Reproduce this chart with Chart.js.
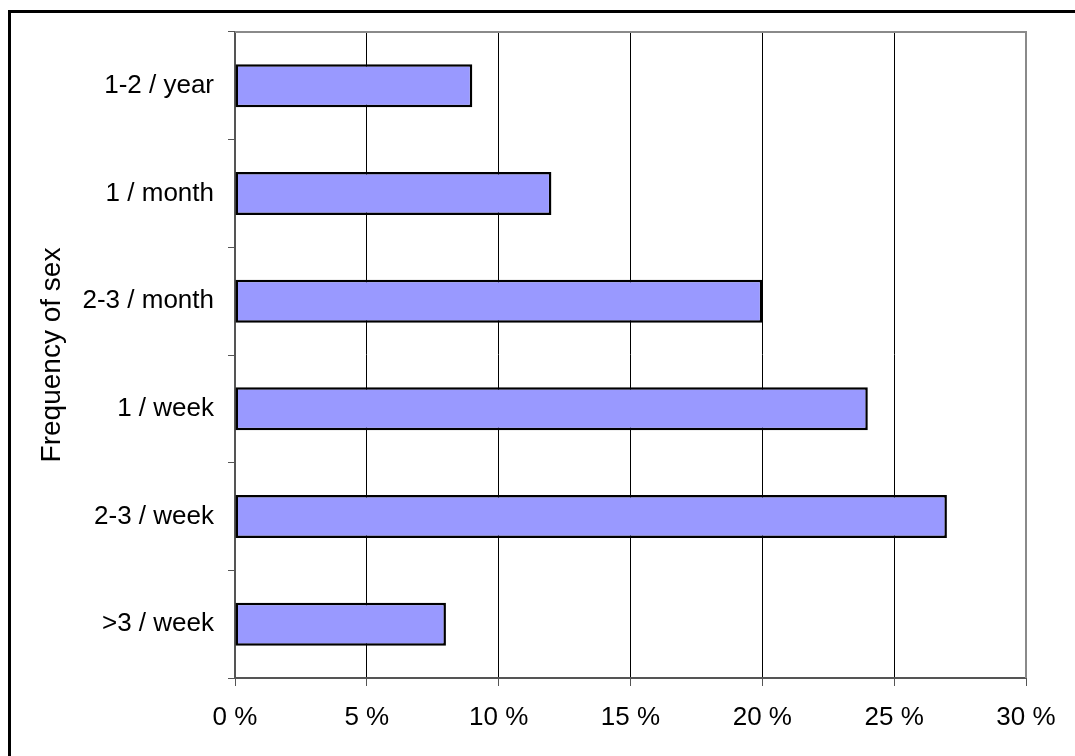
<!DOCTYPE html>
<html>
<head>
<meta charset="utf-8">
<script src="https://cdn.jsdelivr.net/npm/chart.js@4/dist/chart.umd.min.js"></script>
<style>
  html, body { margin: 0; padding: 0; background: #fff; }
  #wrap { width: 1075px; height: 756px; }
</style>
</head>
<body>
<div id="wrap"><canvas id="freq"></canvas></div>
<script>
// frequency of sex, share of respondents (%)
const categories = ['1-2 / year', '1 / month', '2-3 / month', '1 / week', '2-3 / week', '>3 / week'];
const shares = [9, 12, 20, 24, 27, 8];
const xTicks = [0, 5, 10, 15, 20, 25, 30];

const FONT = 'Liberation Sans, Arial, Helvetica, sans-serif';

// white page with the heavy black frame on top/left, gray box on plot top/right
const framePlugin = {
  id: 'frame',
  beforeDraw(chart) {
    const ctx = chart.ctx;
    ctx.save();
    ctx.fillStyle = '#fff';
    ctx.fillRect(0, 0, chart.width, chart.height);
    ctx.strokeStyle = '#000';
    ctx.lineWidth = 3;
    ctx.beginPath();
    ctx.moveTo(9.5, chart.height);
    ctx.lineTo(9.5, 11.5);
    ctx.lineTo(chart.width, 11.5);
    ctx.stroke();
    ctx.restore();
  },
  afterDraw(chart) {
    const a = chart.chartArea;
    const ctx = chart.ctx;
    ctx.save();
    ctx.strokeStyle = '#8a8a8a';
    ctx.lineWidth = 2;
    ctx.beginPath();
    ctx.moveTo(a.left, a.top);
    ctx.lineTo(a.right, a.top);
    ctx.lineTo(a.right, a.bottom);
    ctx.stroke();
    ctx.restore();
  }
};

new Chart(document.getElementById('freq'), {
  type: 'bar',
  data: {
    labels: categories,
    datasets: [{
      data: shares,
      backgroundColor: '#9999ff',
      borderColor: '#000',
      borderWidth: 2.5,
      borderSkipped: false,
      barPercentage: 0.8,
      categoryPercentage: 0.5
    }]
  },
  options: {
    indexAxis: 'y',
    responsive: true,
    maintainAspectRatio: false,
    animation: false,
    devicePixelRatio: 1,
    layout: { padding: { top: 32, right: 49, left: 0, bottom: 0 } },
    plugins: {
      legend: { display: false },
      tooltip: { enabled: false }
    },
    scales: {
      x: {
        min: 0,
        max: 30,
        afterBuildTicks(scale) {
          scale.ticks = xTicks.map(v => ({ value: v }));
        },
        afterFit(scale) { scale.height = 78; },
        ticks: {
          callback: v => v + ' %',
          color: '#000',
          padding: 16,
          maxRotation: 0,
          font: { family: FONT, size: 26 }
        },
        grid: {
          color: '#000',
          lineWidth: 1,
          tickLength: 8,
          tickColor: '#555'
        },
        border: { display: true, color: '#555', width: 2 }
      },
      y: {
        afterFit(scale) { scale.width = 235; },
        ticks: {
          color: '#000',
          padding: 14,
          font: { family: FONT, size: 26 }
        },
        grid: {
          offset: true,
          drawOnChartArea: false,
          tickLength: 7,
          tickColor: '#555'
        },
        border: { display: true, color: '#555', width: 2 },
        title: {
          display: true,
          text: 'Frequency of sex',
          color: '#000',
          padding: { top: 35, bottom: 0 },
          font: { family: FONT, size: 28 }
        }
      }
    }
  },
  plugins: [framePlugin]
});
</script>
</body>
</html>
